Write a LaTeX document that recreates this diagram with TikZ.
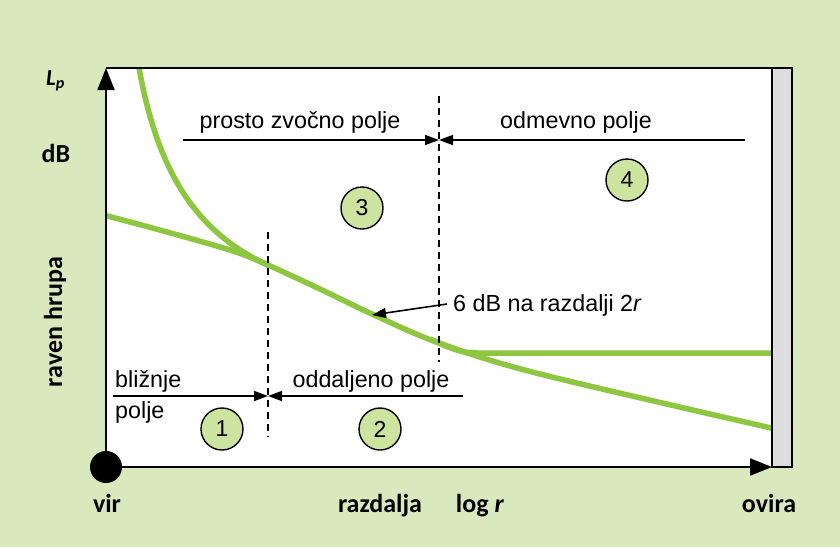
\documentclass[tikz,border=0pt]{standalone}
\usepackage{fontspec}
\setmainfont{Liberation Sans}
\newfontfamily\lblfont{Carlito}
\usetikzlibrary{arrows.meta}
\definecolor{bg}{RGB}{218,233,189}
\definecolor{curvecol}{RGB}{141,198,63}
\definecolor{circcol}{RGB}{205,227,160}
\definecolor{wallcol}{RGB}{221,221,221}
\begin{document}
\begin{tikzpicture}[x=1pt,y=-1pt,
  lbl/.style={font=\lblfont\bfseries\fontsize{26}{30}\selectfont, inner sep=0pt},
  txt/.style={font=\fontsize{23.3}{27}\selectfont, inner sep=0pt},
  num/.style={circle, draw=black, line width=1.4pt, fill=circcol, minimum size=42pt, inner sep=0pt, font=\fontsize{23}{27}\selectfont},
  gcurve/.style={draw=curvecol, line width=5.5pt},
  dashline/.style={draw=black, line width=1.4pt, dash pattern=on 7pt off 5pt},
  dimarrow/.style={draw=black, line width=1.6pt, -{Triangle[length=14pt,width=10pt]}},
  axisarrow/.style={draw=black, line width=2pt, -{Triangle[length=22pt,width=17pt]}},
]
\useasboundingbox (0,0) rectangle (840,547);
\fill[bg] (0,0) rectangle (840,547);
\fill[white] (106,68) rectangle (772,467);
% curves
\begin{scope}
\clip (106,68) rectangle (772,467);
\draw[gcurve] plot[smooth, tension=0.55] coordinates {(100,214) (167,232) (233,251) (268,265) (320,289) (372,314) (439,343) (540,374) (780,430)};
\draw[gcurve] (138,62) .. controls (155,162) and (190,230) .. (268,265);
\draw[gcurve] (430,339) .. controls (450,348) and (460,353) .. (478,353) -- (780,353);
\end{scope}
% top border
\draw[line width=1.6pt] (106,68) -- (792,68);
% wall
\draw[fill=wallcol, line width=1.6pt] (772,68) rectangle (792,467);
% dashed lines
\coordinate (d1t) at (268,232); \coordinate (d1b) at (268,437);
\coordinate (d2t) at (439,96); \coordinate (d2b) at (439,362);
\draw[dashline] (d1t) -- (d1b);
\draw[dashline] (d2t) -- (d2b);
% dimension arrows
\coordinate (a1) at (183,140); \coordinate (a2) at (439,140); \coordinate (a3) at (745,140);
\draw[dimarrow] (a1) -- (a2);
\draw[dimarrow] (a3) -- (a2);
\coordinate (b1) at (113,396); \coordinate (b2) at (268,396); \coordinate (b3) at (463,396);
\draw[dimarrow] (b1) -- (b2);
\draw[dimarrow] (b3) -- (b2);
\coordinate (c1) at (447,304); \coordinate (c2) at (372,315);
\draw[dimarrow] (c1) -- (c2);
% axes
\coordinate (o) at (106,467); \coordinate (ytip) at (106,68); \coordinate (xtip) at (772,467);
\draw[axisarrow] (o) -- (ytip);
\draw[axisarrow] (o) -- (xtip);
\fill (o) circle (16);
% inner texts
\node[txt, anchor=base] (t1) at (300,128) {prosto zvočno polje};
\node[txt, anchor=base] (t2) at (576,128) {odmevno polje};
\node[txt, anchor=base west] (t3) at (453,311) {6 dB na razdalji 2\textit{r}};
\node[txt, anchor=base west] (t4) at (115,387) {bližnje};
\node[txt, anchor=base west] (t5) at (115,418) {polje};
\node[txt, anchor=base] (t6) at (371,387) {oddaljeno polje};
% circled numbers
\node[num] (n1) at (222,429) {1};
\node[num] (n2) at (380,429) {2};
\node[num] (n3) at (362,208) {3};
\node[num] (n4) at (627,180) {4};
% axis labels
\node[lbl, anchor=base] (vir) at (107,512) {vir};
\node[lbl, anchor=base] (razd) at (380,512) {razdalja};
\node[lbl, anchor=base] (logr) at (480,512) {log \textit{r}};
\node[lbl, anchor=base] (ovira) at (769,512) {ovira};
\node[lbl, anchor=base] (db) at (56,162) {dB};
\node[lbl, anchor=base west, font=\lblfont\bfseries\itshape\fontsize{23}{26}\selectfont] (lp) at (46,85) {L\textsubscript{p}};
\node[lbl, rotate=90] (raven) at (55,322) {raven hrupa};
\end{tikzpicture}
\end{document}
